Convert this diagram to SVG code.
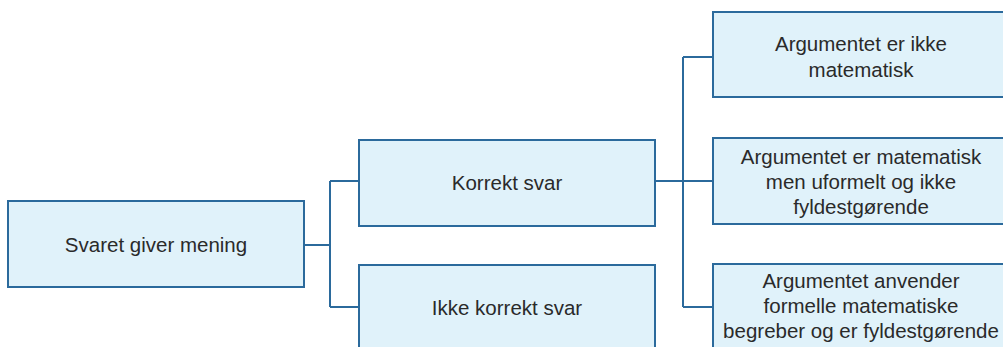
<svg xmlns="http://www.w3.org/2000/svg" width="1003" height="347" viewBox="0 0 1003 347">
<style>
.box{fill:#e0f2fa;stroke:#2b6a9c;stroke-width:2}
.t{font-family:"Liberation Sans",Arial,sans-serif;font-size:20.5px;fill:#2a2a2a;text-anchor:middle}
.c{fill:none;stroke:#2b6a9c;stroke-width:2}
</style>
<rect width="1003" height="347" fill="#fff"/>
<g id="connectors">
<path class="c" d="M304 245H330M330 181V307M330 181H359M330 307H359"/>
<path class="c" d="M655 181H712M683 57V307M683 57H713M683 307H713"/>
</g>
<g id="n1"><rect class="box" x="8" y="201" width="296" height="86"/><text class="t" x="156" y="252">Svaret giver mening</text></g>
<g id="n2"><rect class="box" x="359" y="140" width="296" height="86"/><text class="t" x="507" y="190">Korrekt svar</text></g>
<g id="n3"><rect class="box" x="359" y="265" width="296" height="100"/><text class="t" x="507" y="315">Ikke korrekt svar</text></g>
<g id="n4"><rect class="box" x="713" y="12" width="300" height="85"/><text class="t" x="861" y="51">Argumentet er ikke</text><text class="t" x="861" y="77">matematisk</text></g>
<g id="n5"><rect class="box" x="713" y="138" width="300" height="86"/><text class="t" x="861" y="164">Argumentet er matematisk</text><text class="t" x="861" y="189">men uformelt og ikke</text><text class="t" x="861" y="214">fyldestgørende</text></g>
<g id="n6"><rect class="box" x="713" y="264" width="300" height="100"/><text class="t" x="861" y="288">Argumentet anvender</text><text class="t" x="861" y="313">formelle matematiske</text><text class="t" x="861" y="338">begreber og er fyldestgørende</text></g>
</svg>
